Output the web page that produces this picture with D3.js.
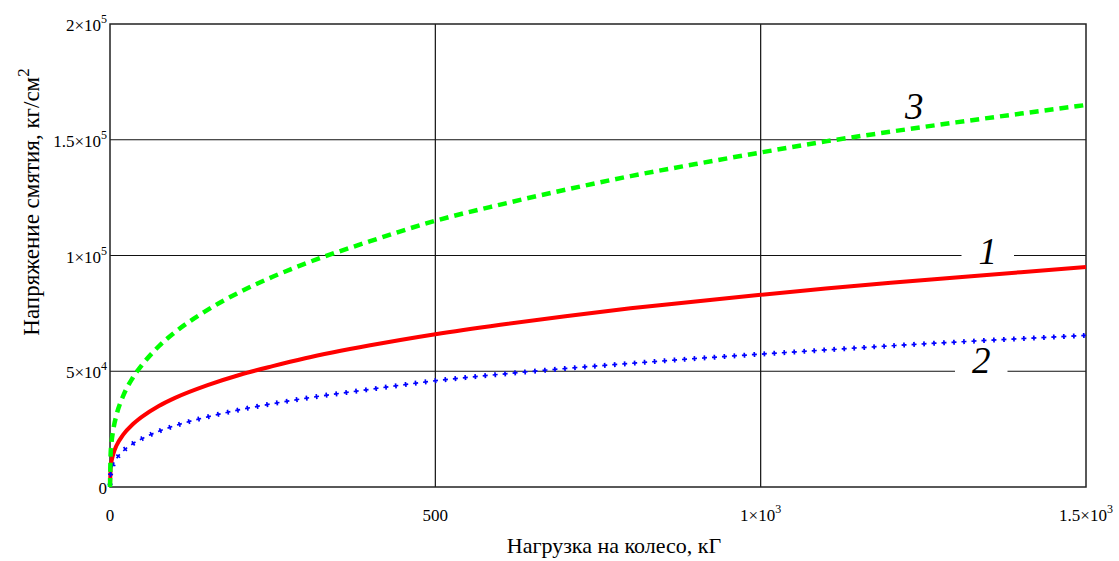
<!DOCTYPE html>
<html>
<head>
<meta charset="utf-8">
<script src="https://cdn.jsdelivr.net/npm/d3@7"></script>
<style>
  body { margin: 0; background: #fff; }
  svg { display: block; }
</style>
</head>
<body>
<svg id="chart" width="1119" height="561"></svg>
<script>
// ---- data ----
const loads = [0, 1, 2, 5, 10, 20, 35, 50, 75, 100, 150, 200, 250, 300, 400, 500, 600, 700, 800, 900, 1000, 1100, 1200, 1300, 1400, 1500];
const stress1 = [0, 8300, 10500, 14200, 17900, 22500, 27100, 30500, 35000, 38500, 44000, 48500, 52200, 55600, 61200, 66000, 70100, 73800, 77200, 80100, 83000, 85700, 88200, 90500, 92800, 95000];
const stress2 = [0, 5700, 7200, 9800, 12300, 15500, 18700, 21000, 24100, 26500, 30300, 33400, 36000, 38300, 42200, 45900, 48700, 51200, 53400, 55500, 57400, 59200, 61000, 62600, 64100, 65500];
const stress3 = [0, 14400, 18200, 24700, 31100, 39200, 47200, 53000, 60800, 66900, 76500, 84300, 90800, 96500, 106200, 115000, 122000, 128400, 134300, 139500, 144500, 149300, 153500, 157500, 161300, 165000];

const xTicks = [0, 500, 1000, 1500];
const xTickLabels = [["0", ""], ["500", ""], ["1×10", "3"], ["1.5×10", "3"]];
const yTicks = [0, 50000, 100000, 150000, 200000];
const yTickLabels = [["0", ""], ["5×10", "4"], ["1×10", "5"], ["1.5×10", "5"], ["2×10", "5"]];
const xTitle = "Нагрузка на колесо, кГ";
const yTitle = ["Напряжение смятия, кг/см", "2"];
const curveLabels = [
  { name: "1", x: 1349, y: 96300, gap: true },
  { name: "2", x: 1339, y: 49250, gap: true },
  { name: "3", x: 1236, y: 158960, gap: false }
];

// ---- layout ----
const FONT = "Liberation Serif, Times New Roman, DejaVu Serif, serif";
const svg = d3.select("#chart");
const pL = 110, pR = 1086, pT = 24, pB = 487;
const x = d3.scaleLinear().domain([0, 1500]).range([pL, pR]);
const y = d3.scaleLinear().domain([0, 200000]).range([pB, pT]);

// grid
const grid = svg.append("g").attr("stroke", "#111").attr("stroke-width", 1.2);
xTicks.slice(1, -1).forEach(t => {
  grid.append("line").attr("x1", x(t)).attr("x2", x(t)).attr("y1", pT).attr("y2", pB);
});
yTicks.slice(1, -1).forEach(t => {
  grid.append("line").attr("x1", pL).attr("x2", pR).attr("y1", y(t)).attr("y2", y(t));
});

// curve labels with white background gaps
const lab = svg.append("g");
curveLabels.forEach(c => {
  const g = lab.append("g");
  const t = g.append("text")
    .attr("x", x(c.x)).attr("y", y(c.y))
    .attr("text-anchor", "middle")
    .attr("font-family", FONT)
    .attr("font-style", "italic")
    .attr("font-size", 37)
    .attr("fill", "#000")
    .text(c.name);
  if (c.gap) {
    const b = t.node().getBBox();
    g.insert("rect", "text")
      .attr("x", b.x - 17).attr("y", b.y)
      .attr("width", b.width + 34).attr("height", b.height)
      .attr("fill", "#fff");
  }
});

// frame
svg.append("rect")
  .attr("x", pL).attr("y", pT)
  .attr("width", pR - pL).attr("height", pB - pT)
  .attr("fill", "none").attr("stroke", "#222").attr("stroke-width", 1.5);

// curves
const line = (ys) => d3.line()
  .x((d, i) => x(loads[i]))
  .y((d) => y(d))
  .curve(d3.curveMonotoneX)(ys);

const curves = svg.append("g").attr("fill", "none");
curves.append("path").attr("d", line(stress1))
  .attr("stroke", "#ff0000").attr("stroke-width", 4);
curves.append("path").attr("d", line(stress2))
  .attr("stroke", "#0000ff").attr("stroke-width", 1.7)
  .attr("stroke-dasharray", "5 5");
curves.append("path").attr("d", line(stress2))
  .attr("stroke", "#0000ff").attr("stroke-width", 5)
  .attr("stroke-dasharray", "1.7 8.3").attr("stroke-dashoffset", 8.35);
curves.append("path").attr("d", line(stress3))
  .attr("stroke", "#00ff00").attr("stroke-width", 4.5)
  .attr("stroke-dasharray", "9 6");

// x tick labels
xTicks.forEach((t, i) => {
  const tx = svg.append("text")
    .attr("x", x(t)).attr("y", 521)
    .attr("text-anchor", "middle")
    .attr("font-family", FONT)
    .attr("font-size", 17)
    .attr("fill", "#000");
  tx.append("tspan").text(xTickLabels[i][0]);
  if (xTickLabels[i][1]) {
    tx.append("tspan").attr("dy", -8).attr("font-size", 12).text(xTickLabels[i][1]);
  }
});

// y tick labels
yTicks.forEach((t, i) => {
  const ty = svg.append("text")
    .attr("x", 107).attr("y", y(t) + 7)
    .attr("text-anchor", "end")
    .attr("font-family", FONT)
    .attr("font-size", 17)
    .attr("fill", "#000");
  ty.append("tspan").text(yTickLabels[i][0]);
  if (yTickLabels[i][1]) {
    ty.append("tspan").attr("dy", -8).attr("font-size", 12).text(yTickLabels[i][1]);
  }
});

// axis titles
svg.append("text")
  .attr("x", 614).attr("y", 553)
  .attr("text-anchor", "middle")
  .attr("font-family", FONT)
  .attr("font-size", 22)
  .attr("fill", "#000")
  .text(xTitle);

const yt = svg.append("text")
  .attr("transform", "translate(39,202) rotate(-90)")
  .attr("text-anchor", "middle")
  .attr("font-family", FONT)
  .attr("font-size", 23)
  .attr("fill", "#000");
yt.append("tspan").text(yTitle[0]);
yt.append("tspan").attr("dy", -10).attr("font-size", 17).text(yTitle[1]);
</script>
</body>
</html>
